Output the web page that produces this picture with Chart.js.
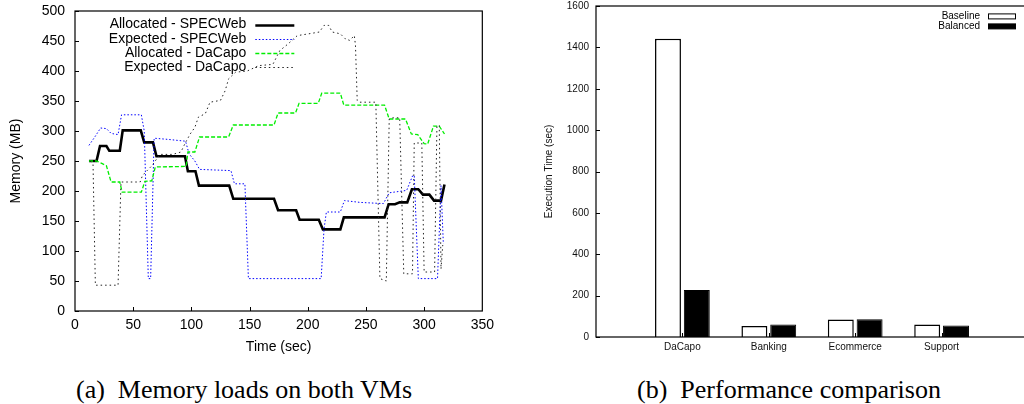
<!DOCTYPE html>
<html>
<head>
<meta charset="utf-8">
<script src="https://cdn.jsdelivr.net/npm/chart.js@4.4.1/dist/chart.umd.min.js"></script>
<style>
  html, body { margin: 0; padding: 0; background: #fff; }
  body { width: 1024px; height: 404px; overflow: hidden; position: relative; }
  canvas { position: absolute; top: 0; }
  #memChart { left: 0; }
  #perfChart { left: 500px; }
  .caption { position: absolute; top: 374px; font-family: "Liberation Serif", "Times New Roman", serif; font-size: 26px; line-height: 32px; color: #000; white-space: nowrap; }
  .caption span { margin-left: 13px; }
</style>
</head>
<body>
<canvas id="memChart" width="500" height="360"></canvas>
<canvas id="perfChart" width="532" height="360"></canvas>
<div class="caption" style="left:76px">(a)<span>Memory loads on both VMs</span></div>
<div class="caption" style="left:637px">(b)<span>Performance comparison</span></div>
<script>
// (a) memory over time, one pair of arrays per series
const allocSpecTime = [12, 18.5, 21.5, 27, 29.5, 38.5, 41, 56.5, 59.5, 67, 70, 94.5, 97, 103.5, 106.5, 132.5, 136, 171, 174.5, 190, 193, 209.5, 213, 228, 231, 266, 269.5, 275, 279, 285.5, 289.5, 295, 299, 304.5, 308.5, 314.5, 317.5];
const allocSpecMem = [250, 250, 275, 275, 267, 267, 301, 301, 281, 281, 258, 258, 233, 233, 209, 209, 187, 187, 168, 168, 152, 152, 136, 136, 156, 156, 178, 178, 181, 181, 203, 203, 194, 194, 184, 184, 211];

const expSpecTime = [12, 17, 22, 27, 31, 37, 40, 57, 59.5, 63, 65, 68, 80, 95, 98, 103, 107, 134, 137, 146, 149, 211.5, 214, 216, 228, 231.5, 245, 265, 270, 285, 290, 291.5, 295, 311.5, 314.5, 316.5];
const expSpecMem = [276, 290, 305, 304, 296, 294, 327, 327, 300, 54, 54, 288, 286, 283, 262, 250, 236, 234, 212, 212, 54, 54, 137, 165, 165, 184, 181, 179, 197, 201, 225, 226, 54, 54, 209, 112];

const allocDacTime = [12, 18.5, 23, 27, 31, 38.5, 40.5, 57, 60, 66, 69, 95.5, 97, 103, 107, 132, 136, 171, 174.5, 189.5, 192.5, 209, 212, 228, 231, 266, 270, 284, 289, 294.5, 300, 303, 308, 313, 317.5];
const allocDacMem = [250, 250, 246, 242, 215, 215, 198, 198, 216, 217, 240, 241, 265, 265, 290, 290, 310, 310, 330, 330, 346, 346, 363, 363, 343, 343, 320, 320, 295, 294, 279, 278, 308, 308, 295];

const expDacTime = [13, 15.5, 17.5, 37, 39.5, 56, 58, 62, 66, 73, 84, 91, 95, 99, 103, 106, 112, 116, 125, 129, 132, 138, 148, 158, 170, 176, 183, 191, 201, 210, 214, 218, 221, 228, 232, 236, 240, 241, 242.5, 244, 258.5, 262, 267.5, 270, 273, 279, 282.5, 290, 291.5, 298, 300, 309, 311, 313, 314.5, 316];
const expDacMem = [250, 244, 43, 43, 215, 215, 226, 234, 242, 261, 261, 265, 281, 295, 306, 323, 329, 348, 351, 367, 387, 398, 400, 409, 411, 434, 445, 459, 462, 465, 476, 476, 465, 462, 454, 451, 459, 443, 351, 348, 348, 54, 50, 320, 322, 322, 62, 62, 280, 280, 65, 65, 309, 309, 70, 110];

// (b) execution times
const benchmarks = ['DaCapo', 'Banking', 'Ecommerce', 'Support'];
const baselineSec = [1442, 53, 84, 60];
const balancedSec = [227, 60, 86, 55];

const sans = '"Liberation Sans", Arial, sans-serif';

function toPoints(xs, ys) {
    return xs.map((x, i) => ({ x: x, y: ys[i] }));
}

// gnuplot style box round the plot, with ticks pointing inwards
const plotFrame = {
    id: 'plotFrame',
    afterDraw(chart, args, opts) {
        const { ctx, chartArea: a, scales } = chart;
        ctx.save();
        ctx.strokeStyle = '#000';
        ctx.lineWidth = opts.width || 1;
        ctx.strokeRect(a.left, a.top, a.right - a.left, a.bottom - a.top);
        ctx.lineWidth = 1;
        ctx.beginPath();
        scales.y.ticks.forEach(t => {
            const y = Math.round(scales.y.getPixelForValue(t.value)) + 0.5;
            ctx.moveTo(a.left, y);
            ctx.lineTo(a.left + 4, y);
        });
        const xs = scales.x;
        xs.ticks.forEach((t, i) => {
            if (opts.skipEmpty && !xs.getLabelForValue(t.value)) return;
            const x = Math.round(xs.getPixelForTick(i)) + 0.5;
            if (x <= a.left + 1 || x >= a.right - 1) return;
            ctx.moveTo(x, a.bottom);
            ctx.lineTo(x, a.bottom - 4);
        });
        ctx.stroke();
        ctx.restore();
    }
};

// key in the top right corner: text first, sample after it
const keyBox = {
    id: 'keyBox',
    afterDraw(chart, args, opts) {
        const { ctx, chartArea: a } = chart;
        ctx.save();
        ctx.font = opts.fontSize + 'px ' + sans;
        ctx.fillStyle = '#000';
        ctx.textAlign = 'right';
        ctx.textBaseline = 'middle';
        chart.data.datasets.forEach((ds, i) => {
            const y = a.top + opts.firstRow + i * opts.rowGap;
            ctx.fillText(ds.label, a.right + opts.textRight, y);
            const x0 = a.right + opts.sampleLeft;
            const x1 = a.right + opts.sampleRight;
            if (opts.boxes) {
                ctx.fillStyle = ds.backgroundColor;
                ctx.fillRect(x0, y - 2.5, x1 - x0, 5);
                ctx.strokeStyle = '#000';
                ctx.lineWidth = 1;
                ctx.strokeRect(x0 + 0.5, y - 2.5, x1 - x0 - 1, 5);
                ctx.fillStyle = '#000';
            } else {
                ctx.strokeStyle = ds.borderColor;
                ctx.lineWidth = ds.borderWidth;
                ctx.setLineDash(ds.borderDash || []);
                ctx.beginPath();
                ctx.moveTo(x0, Math.round(y) + 0.5);
                ctx.lineTo(x1, Math.round(y) + 0.5);
                ctx.stroke();
                ctx.setLineDash([]);
            }
        });
        ctx.restore();
    }
};

const plainNumber = value => String(value);

new Chart(document.getElementById('memChart'), {
    type: 'line',
    data: {
        datasets: [{
            label: 'Allocated - SPECWeb',
            data: toPoints(allocSpecTime, allocSpecMem),
            borderColor: '#000',
            borderWidth: 2.6,
            order: 4
        }, {
            label: 'Expected - SPECWeb',
            data: toPoints(expSpecTime, expSpecMem),
            borderColor: '#0000ff',
            borderWidth: 1,
            borderDash: [1.5, 2],
            order: 3
        }, {
            label: 'Allocated - DaCapo',
            data: toPoints(allocDacTime, allocDacMem),
            borderColor: '#00ee00',
            borderWidth: 1.3,
            borderDash: [4, 2],
            order: 2
        }, {
            label: 'Expected - DaCapo',
            data: toPoints(expDacTime, expDacMem),
            borderColor: '#222',
            borderWidth: 1,
            borderDash: [1.5, 3],
            order: 1
        }]
    },
    options: {
        responsive: false,
        animation: false,
        layout: { padding: { top: 11, right: 17, left: 0, bottom: 0 } },
        elements: {
            line: { tension: 0, fill: false },
            point: { radius: 0 }
        },
        plugins: {
            legend: { display: false },
            tooltip: { enabled: false },
            plotFrame: { width: 1.2 },
            keyBox: { fontSize: 14, firstRow: 13.5, rowGap: 14.3, textRight: -236, sampleLeft: -227, sampleRight: -188 }
        },
        scales: {
            x: {
                type: 'linear',
                min: 0,
                max: 350,
                ticks: { stepSize: 50, padding: 6, color: '#000', font: { family: sans, size: 14 }, callback: plainNumber },
                grid: { display: false, drawTicks: false },
                border: { display: false },
                title: { display: true, text: 'Time (sec)', color: '#000', font: { family: sans, size: 14 }, padding: { top: 0, bottom: 4 } },
                afterFit(scale) { scale.height = 49; }
            },
            y: {
                min: 0,
                max: 500,
                ticks: { stepSize: 50, padding: 10, color: '#000', font: { family: sans, size: 14 }, callback: plainNumber },
                grid: { display: false, drawTicks: false },
                border: { display: false },
                title: { display: true, text: 'Memory (MB)', color: '#000', font: { family: sans, size: 14 }, padding: { top: 8, bottom: 0 } },
                afterFit(scale) {
                    scale.width = 75;
                    scale.paddingTop = 0;
                    scale.paddingBottom = 0;
                }
            }
        }
    },
    plugins: [plotFrame, keyBox]
});

new Chart(document.getElementById('perfChart'), {
    type: 'bar',
    data: {
        labels: ['', ...benchmarks, ''],
        datasets: [{
            label: 'Baseline',
            data: [null, ...baselineSec, null],
            backgroundColor: '#fff',
            borderColor: '#000',
            borderWidth: 1.5,
            borderSkipped: 'bottom'
        }, {
            label: 'Balanced',
            data: [null, ...balancedSec, null],
            backgroundColor: '#000',
            borderColor: '#000',
            borderWidth: 1,
            borderSkipped: 'bottom'
        }]
    },
    options: {
        responsive: false,
        animation: false,
        categoryPercentage: 0.667,
        barPercentage: 0.9,
        layout: { padding: { top: 6, right: 1, left: 0, bottom: 0 } },
        plugins: {
            legend: { display: false },
            tooltip: { enabled: false },
            plotFrame: { width: 1.2, skipEmpty: true },
            keyBox: { fontSize: 10, firstRow: 10.4, rowGap: 10, textRight: -48, sampleLeft: -40, sampleRight: -12, boxes: true }
        },
        scales: {
            x: {
                offset: false,
                ticks: { padding: 4, color: '#111', font: { family: sans, size: 10 }, autoSkip: false, maxRotation: 0 },
                grid: { display: false, drawTicks: false },
                border: { display: false },
                afterFit(scale) { scale.height = 23; }
            },
            y: {
                min: 0,
                max: 1600,
                ticks: { stepSize: 200, padding: 7, color: '#111', font: { family: sans, size: 10 }, callback: plainNumber },
                grid: { display: false, drawTicks: false },
                border: { display: false },
                title: { display: true, text: 'Execution Time (sec)', color: '#111', font: { family: sans, size: 10 }, padding: { top: 43, bottom: 0 } },
                afterFit(scale) {
                    scale.width = 96;
                    scale.paddingTop = 0;
                    scale.paddingBottom = 0;
                }
            }
        }
    },
    plugins: [plotFrame, keyBox]
});
</script>
</body>
</html>
